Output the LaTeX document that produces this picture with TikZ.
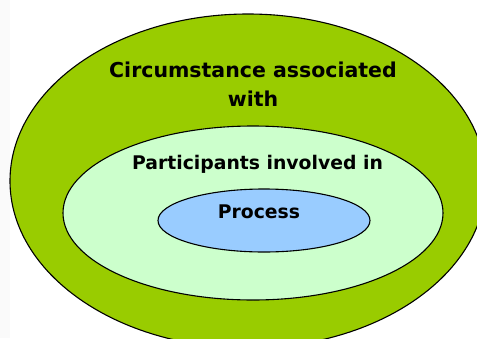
\documentclass[tikz,border=0pt]{standalone}
\usepackage{fontspec}
\setmainfont{DejaVu Sans}
\usepackage{tikz}

\definecolor{outergreen}{HTML}{99CC00}
\definecolor{midgreen}{HTML}{CCFFCC}
\definecolor{innerblue}{HTML}{99CCFF}

\begin{document}
\begin{tikzpicture}[x=1pt, y=-1pt, every node/.style={anchor=base, inner sep=0pt, font=\bfseries}, ring/.style={draw=black, line width=1.1pt}]
        \useasboundingbox (0,0) rectangle (477,338);
        \clip (0,0) rectangle (477,338);
        \fill[white] (0,0) rectangle (477,338);
        \fill[gray!4] (0,0) rectangle (10,338);
        \filldraw[ring, fill=outergreen] (248,181) ellipse [x radius=238, y radius=167];
        \filldraw[ring, fill=midgreen] (253,213) ellipse [x radius=190, y radius=87];
        \filldraw[ring, fill=innerblue] (264,220.5) ellipse [x radius=106, y radius=31.5];
        \node[font=\bfseries\fontsize{20.5}{24}\selectfont] (circ1) at (253,77) {Circumstance associated};
        \node[font=\bfseries\fontsize{20.5}{24}\selectfont] (circ2) at (253,106) {with};
        \node[font=\bfseries\fontsize{18.8}{22}\selectfont] (part) at (257.5,169) {Participants involved in};
        \node[font=\bfseries\fontsize{18.8}{22}\selectfont] (proc) at (259,218) {Process};
    \end{tikzpicture}
\end{document}
